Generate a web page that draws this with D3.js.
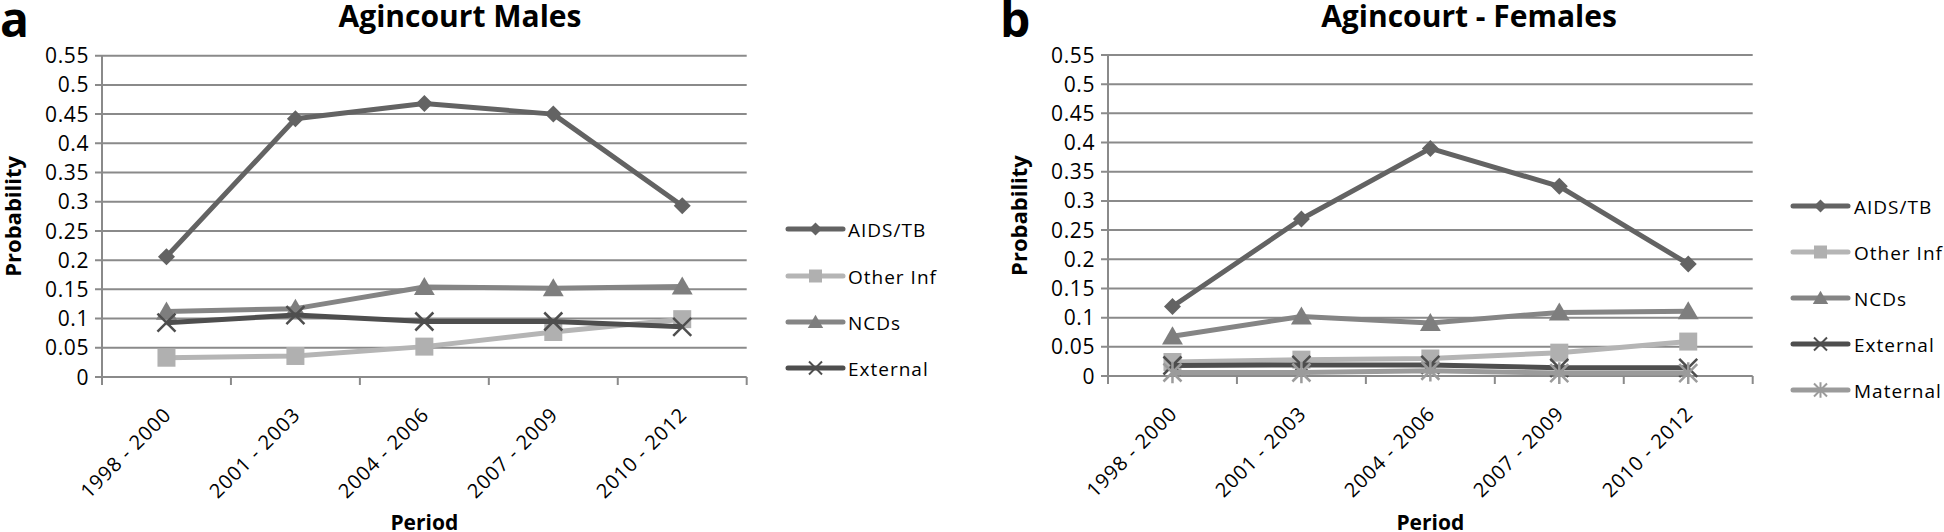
<!DOCTYPE html>
<html>
<head>
<meta charset="utf-8">
<script src="https://cdn.jsdelivr.net/npm/d3@7"></script>
<style>
  html, body { margin: 0; padding: 0; background: #fff; }
  svg { display: block; font-family: "Open Sans", Lato, sans-serif; }
</style>
</head>
<body>
<svg id="chart" width="1944" height="532"></svg>
<script>
// ---------- data ----------
const periods = ["1998 - 2000", "2001 - 2003", "2004 - 2006", "2007 - 2009", "2010 - 2012"];
const yTickValues = [0, 0.05, 0.1, 0.15, 0.2, 0.25, 0.3, 0.35, 0.4, 0.45, 0.5, 0.55];
const yTickLabels = ["0", "0.05", "0.1", "0.15", "0.2", "0.25", "0.3", "0.35", "0.4", "0.45", "0.5", "0.55"];

const malesAidsTb   = [0.206, 0.442, 0.468, 0.450, 0.293];
const malesOtherInf = [0.033, 0.036, 0.052, 0.077, 0.099];
const malesNcds     = [0.112, 0.117, 0.154, 0.152, 0.155];
const malesExternal = [0.093, 0.106, 0.095, 0.095, 0.086];

const femalesAidsTb   = [0.119, 0.269, 0.390, 0.325, 0.192];
const femalesOtherInf = [0.024, 0.028, 0.030, 0.040, 0.059];
const femalesNcds     = [0.068, 0.102, 0.091, 0.109, 0.111];
const femalesExternal = [0.018, 0.019, 0.019, 0.014, 0.014];
const femalesMaternal = [0.006, 0.006, 0.009, 0.005, 0.005];

// ---------- styles ----------
const seriesStyle = {
  "AIDS/TB":   { color: "#636363", marker: "diamond", fill: "#636363" },
  "Other Inf": { color: "#b5b5b5", marker: "square",  fill: "#b0b0b0" },
  "NCDs":      { color: "#858585", marker: "triangle", fill: "#7e7e7e" },
  "External":  { color: "#4e4e4e", marker: "x",       fill: "none" },
  "Maternal":  { color: "#9b9b9b", marker: "star",    fill: "none" }
};

function markerPath(type, s) {
  switch (type) {
    case "diamond": return `M0,${-s}L${s},0L0,${s}L${-s},0Z`;
    case "square": return `M${-s},${-s}H${s}V${s}H${-s}Z`;
    case "triangle": return `M0,${-s*1.05}L${s*1.1},${s*0.85}L${-s*1.1},${s*0.85}Z`;
    case "x": return `M${-s},${-s}L${s},${s}M${s},${-s}L${-s},${s}`;
    case "star": return `M${-s},${-s}L${s},${s}M${s},${-s}L${-s},${s}M0,${-s*1.2}V${s*1.2}`;
  }
}

const svg = d3.select("#chart");

function drawPanel(cfg) {
  const g = svg.append("g");
  const x = d3.scaleBand().domain(periods).range([cfg.x0, cfg.x1]).padding(0);
  const y = d3.scaleLinear().domain([0, 0.55]).range([cfg.yb, cfg.yt]);

  // gridlines
  g.append("g").selectAll("line").data(yTickValues).join("line")
    .attr("x1", cfg.x0 - 7).attr("x2", cfg.x1)
    .attr("y1", d => y(d)).attr("y2", d => y(d))
    .attr("stroke", "#8a8a8a").attr("stroke-width", 2);

  // y axis line
  g.append("line").attr("x1", cfg.x0).attr("x2", cfg.x0)
    .attr("y1", y(0)).attr("y2", y(0.55))
    .attr("stroke", "#8a8a8a").attr("stroke-width", 2);

  // y tick labels
  g.append("g").selectAll("text").data(yTickValues).join("text")
    .attr("x", cfg.x0 - 13).attr("y", d => y(d)).attr("dy", "0.36em")
    .attr("text-anchor", "end")
    .style("font-size", "21px").style("letter-spacing", "0.6px")
    .text((d, i) => yTickLabels[i]);

  // x axis ticks at band boundaries
  const bounds = periods.map(p => x(p)).concat([x.range()[1]]);
  g.append("g").selectAll("line").data(bounds).join("line")
    .attr("x1", d => d).attr("x2", d => d)
    .attr("y1", y(0)).attr("y2", y(0) + 8)
    .attr("stroke", "#8a8a8a").attr("stroke-width", 2);

  // x tick labels
  g.append("g").selectAll("text").data(periods).join("text")
    .attr("transform", d => `translate(${x(d) + x.bandwidth() / 2 + 6},${y(0) + 39}) rotate(-45)`)
    .attr("text-anchor", "end")
    .style("font-size", "20px").style("letter-spacing", "0.9px")
    .text(d => d);

  // series
  const line = d3.line().x((d, i) => x(periods[i]) + x.bandwidth() / 2).y(d => y(d));
  cfg.series.forEach(s => {
    const st = seriesStyle[s.name];
    g.append("path").datum(s.values)
      .attr("d", line).attr("fill", "none")
      .attr("stroke", st.color).attr("stroke-width", 5).attr("stroke-linejoin", "round");
    const isStroke = st.marker === "x" || st.marker === "star";
    const size = { diamond: 8.5, square: 9, triangle: 9.5, x: 9, star: 9 }[st.marker];
    g.append("g").selectAll("path").data(s.values).join("path")
      .attr("transform", (d, i) => `translate(${x(periods[i]) + x.bandwidth() / 2},${y(d)})`)
      .attr("d", markerPath(st.marker, size))
      .attr("fill", isStroke ? "none" : st.fill)
      .attr("stroke", isStroke ? st.color : "none")
      .attr("stroke-width", isStroke ? 2.5 : 0);
  });

  // legend
  const lg = g.append("g");
  cfg.series.forEach((s, i) => {
    const st = seriesStyle[s.name];
    const ly = cfg.legY[i];
    lg.append("line").attr("x1", cfg.legX0).attr("x2", cfg.legX1)
      .attr("y1", ly).attr("y2", ly)
      .attr("stroke", st.color).attr("stroke-width", 5).attr("stroke-linecap", "round");
    const isStroke = st.marker === "x" || st.marker === "star";
    const size = { diamond: 6.5, square: 6.5, triangle: 7, x: 6.5, star: 6.5 }[st.marker];
    lg.append("path")
      .attr("transform", `translate(${(cfg.legX0 + cfg.legX1) / 2},${ly})`)
      .attr("d", markerPath(st.marker, size))
      .attr("fill", isStroke ? "none" : st.fill)
      .attr("stroke", isStroke ? st.color : "none")
      .attr("stroke-width", isStroke ? 2 : 0);
    lg.append("text").attr("x", cfg.legTextX).attr("y", ly + 8)
      .style("font-size", "19px").style("letter-spacing", "1px")
      .text(s.name);
  });

  // title
  g.append("text").attr("x", cfg.titleX).attr("y", 27).attr("text-anchor", "middle")
    .style("font-size", "30px").style("font-weight", "bold")
    .text(cfg.title);

  // panel letter
  g.append("text").attr("x", cfg.letterX).attr("y", 37)
    .style("font-size", "48px").style("font-weight", "bold")
    .text(cfg.letter);

  // y label
  g.append("text")
    .attr("transform", `translate(${cfg.yLabelX},${(y(0) + y(0.55)) / 2}) rotate(-90)`)
    .attr("text-anchor", "middle")
    .style("font-size", "22px").style("font-weight", "bold")
    .text("Probability");

  // x label
  g.append("text").attr("x", (cfg.x0 + cfg.x1) / 2).attr("y", 530).attr("text-anchor", "middle")
    .style("font-size", "21px").style("font-weight", "bold")
    .text("Period");
}

drawPanel({
  x0: 102, x1: 746.7, yb: 377, yt: 55.7,
  title: "Agincourt Males", titleX: 460, letter: "a", letterX: 0, yLabelX: 21,
  legX0: 788, legX1: 843, legTextX: 848, legY: [229, 276, 322, 368],
  series: [
    { name: "AIDS/TB", values: malesAidsTb },
    { name: "Other Inf", values: malesOtherInf },
    { name: "NCDs", values: malesNcds },
    { name: "External", values: malesExternal }
  ]
});

drawPanel({
  x0: 1108, x1: 1752.7, yb: 376, yt: 55,
  title: "Agincourt - Females", titleX: 1469, letter: "b", letterX: 1000, yLabelX: 1027,
  legX0: 1793, legX1: 1848, legTextX: 1854, legY: [206, 252, 298, 344, 390],
  series: [
    { name: "AIDS/TB", values: femalesAidsTb },
    { name: "Other Inf", values: femalesOtherInf },
    { name: "NCDs", values: femalesNcds },
    { name: "External", values: femalesExternal },
    { name: "Maternal", values: femalesMaternal }
  ]
});
</script>
</body>
</html>
